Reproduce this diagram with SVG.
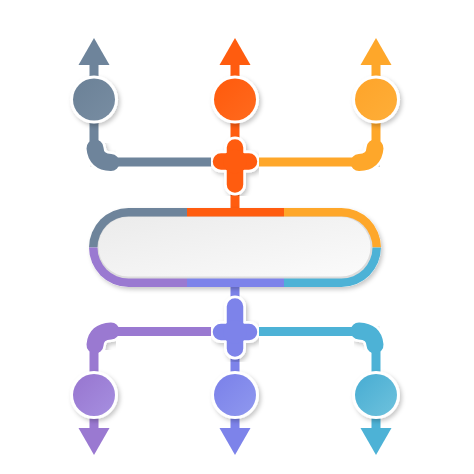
<svg xmlns="http://www.w3.org/2000/svg" width="474" height="474" viewBox="0 0 474 474">
  <defs>
    <filter id="sh" x="-30%" y="-30%" width="160%" height="160%">
      <feDropShadow dx="2" dy="2.5" stdDeviation="2" flood-color="#000" flood-opacity="0.22"/>
    </filter>
    <clipPath id="pillClip">
      <rect x="89" y="208" width="292" height="79" rx="39.5"/>
    </clipPath>
    <linearGradient id="gGray" x1="0" y1="0" x2="1" y2="1"><stop offset="0" stop-color="#6b8197"/><stop offset="1" stop-color="#788da2"/></linearGradient>
    <linearGradient id="gOrange" x1="0" y1="0" x2="1" y2="1"><stop offset="0" stop-color="#ff5a0c"/><stop offset="1" stop-color="#ff6a1e"/></linearGradient>
    <linearGradient id="gYellow" x1="0" y1="0" x2="1" y2="1"><stop offset="0" stop-color="#fea42a"/><stop offset="1" stop-color="#feae38"/></linearGradient>
    <linearGradient id="gPurple" x1="0" y1="0" x2="1" y2="1"><stop offset="0" stop-color="#9775cf"/><stop offset="1" stop-color="#a68fe0"/></linearGradient>
    <linearGradient id="gPeri" x1="0" y1="0" x2="1" y2="1"><stop offset="0" stop-color="#7a80e9"/><stop offset="1" stop-color="#8f98ef"/></linearGradient>
    <linearGradient id="gBlue" x1="0" y1="0" x2="1" y2="1"><stop offset="0" stop-color="#47acd2"/><stop offset="1" stop-color="#6ec2dd"/></linearGradient>
    <linearGradient id="gPill" x1="0" y1="0" x2="1" y2="1"><stop offset="0" stop-color="#ebebeb"/><stop offset="1" stop-color="#fbfbfb"/></linearGradient>
    <style>
      .ring { fill: #ffffff; filter: url(#sh); }
      .gray { fill: #6e849b; stroke: #6e849b; }
      .orange { fill: #ff5c0f; stroke: #ff5c0f; }
      .yellow { fill: #fea72a; stroke: #fea72a; }
      .purple { fill: #9a79d1; stroke: #9a79d1; }
      .peri { fill: #7d83ea; stroke: #7d83ea; }
      .blue { fill: #4db2d6; stroke: #4db2d6; }
      .bar { stroke-width: 9; fill: none; }
      .outline { fill: none; stroke: #ffffff; stroke-width: 22; stroke-linecap: round; stroke-linejoin: round; filter: url(#sh); }
      .blob { fill: none; stroke-width: 17; stroke-linecap: round; stroke-linejoin: round; }
      .arm { fill: none; stroke-width: 16.5; stroke-linecap: round; }
      .armout { fill: none; stroke: #ffffff; stroke-width: 22; stroke-linecap: round; }
      .arrowhead { stroke: none; }
    </style>
  </defs>

  <g id="connectors">
    <!-- top arrows -->
    <rect class="gray arrowhead" x="89.5" y="63" width="9" height="18"/>
    <polygon class="gray arrowhead" points="94,38 109.5,65 78.5,65"/>
    <rect class="orange arrowhead" x="230.5" y="63" width="9" height="18"/>
    <polygon class="orange arrowhead" points="235,38 250.5,65 219.5,65"/>
    <rect class="yellow arrowhead" x="371.5" y="63" width="9" height="18"/>
    <polygon class="yellow arrowhead" points="376,38 391.5,65 360.5,65"/>
    <!-- bottom arrows -->
    <rect class="purple arrowhead" x="89.5" y="412" width="9" height="18"/>
    <polygon class="purple arrowhead" points="94,455 109.5,428 78.5,428"/>
    <rect class="peri arrowhead" x="230.5" y="412" width="9" height="18"/>
    <polygon class="peri arrowhead" points="235,455 250.5,428 219.5,428"/>
    <rect class="blue arrowhead" x="371.5" y="412" width="9" height="18"/>
    <polygon class="blue arrowhead" points="376,455 391.5,428 360.5,428"/>
    <!-- top stems and bars -->
    <line class="gray bar" x1="94" y1="115" x2="94" y2="148"/>
    <line class="orange bar" x1="235" y1="115" x2="235" y2="150"/>
    <line class="yellow bar" x1="376" y1="115" x2="376" y2="148"/>
    <line class="gray bar" x1="108" y1="162" x2="220" y2="162"/>
    <line class="yellow bar" x1="250" y1="162" x2="362" y2="162"/>
    <line class="orange bar" x1="235" y1="185" x2="235" y2="214"/>
    <!-- bottom stems and bars -->
    <line class="peri bar" x1="235" y1="281" x2="235" y2="310"/>
    <line class="purple bar" x1="108" y1="331.5" x2="220" y2="331.5"/>
    <line class="blue bar" x1="250" y1="331.5" x2="362" y2="331.5"/>
    <line class="purple bar" x1="94" y1="345" x2="94" y2="382"/>
    <line class="peri bar" x1="235" y1="345" x2="235" y2="382"/>
    <line class="blue bar" x1="376" y1="345" x2="376" y2="382"/>
  </g>

  <g id="elbow-top-left">
    <path class="outline" d="M95,148 Q96,162 111,162.5"/>
    <path class="gray blob" d="M95,148 Q96,162 111,162.5"/>
  </g>
  <g id="elbow-top-right">
    <path class="outline" d="M375,148 Q374,162 359,162.5"/>
    <path class="yellow blob" d="M375,148 Q374,162 359,162.5"/>
  </g>
  <g id="elbow-bottom-left">
    <path class="outline" d="M95,345 Q96,331.5 111,331"/>
    <path class="purple blob" d="M95,345 Q96,331.5 111,331"/>
  </g>
  <g id="elbow-bottom-right">
    <path class="outline" d="M375,345 Q374,331.5 359,331"/>
    <path class="blue blob" d="M375,345 Q374,331.5 359,331"/>
  </g>

  <g id="cross-top">
    <g filter="url(#sh)">
      <path class="armout" d="M235,147.5 L235,184.5 M221,161.5 L249,161.5"/>
      <circle cx="235" cy="161.5" r="14.5" fill="#fff"/>
    </g>
    <path class="orange arm" d="M235,147.5 L235,184.5 M221,161.5 L249,161.5"/>
    <circle class="orange" stroke="none" cx="235" cy="161.5" r="11.8"/>
  </g>
  <g id="cross-bottom">
    <g filter="url(#sh)">
      <path class="armout" d="M235,306.5 L235,348.5 M221,332 L249,332"/>
      <circle cx="235" cy="332" r="14.5" fill="#fff"/>
    </g>
    <path class="peri arm" d="M235,306.5 L235,348.5 M221,332 L249,332"/>
    <circle class="peri" stroke="none" cx="235" cy="332" r="11.8"/>
  </g>

  <g id="pill">
    <rect x="89" y="208" width="292" height="79" rx="39.5" fill="#fff" filter="url(#sh)"/>
    <g clip-path="url(#pillClip)">
      <rect x="85" y="204" width="102" height="43.5" fill="#6e849b"/>
      <rect x="187" y="204" width="97" height="43.5" fill="#ff5c0f"/>
      <rect x="284" y="204" width="102" height="43.5" fill="#fea72a"/>
      <rect x="85" y="247.5" width="102" height="44" fill="#9a79d1"/>
      <rect x="187" y="247.5" width="97" height="44" fill="#7d83ea"/>
      <rect x="284" y="247.5" width="102" height="44" fill="#4db2d6"/>
    </g>
    <rect x="97.5" y="216.5" width="275" height="62" rx="31" fill="#dcdcdc"/>
    <rect x="98.5" y="217" width="272" height="59.5" rx="29.75" fill="url(#gPill)"/>
  </g>

  <g id="circle-top-1">
    <circle class="ring" cx="94" cy="99.5" r="24"/>
    <circle cx="94" cy="99.5" r="21" fill="url(#gGray)"/>
  </g>
  <g id="circle-top-2">
    <circle class="ring" cx="235" cy="99.5" r="24"/>
    <circle cx="235" cy="99.5" r="21" fill="url(#gOrange)"/>
  </g>
  <g id="circle-top-3">
    <circle class="ring" cx="376" cy="99.5" r="24"/>
    <circle cx="376" cy="99.5" r="21" fill="url(#gYellow)"/>
  </g>
  <g id="circle-bottom-1">
    <circle class="ring" cx="94" cy="395" r="24"/>
    <circle cx="94" cy="395" r="21" fill="url(#gPurple)"/>
  </g>
  <g id="circle-bottom-2">
    <circle class="ring" cx="235" cy="395" r="24"/>
    <circle cx="235" cy="395" r="21" fill="url(#gPeri)"/>
  </g>
  <g id="circle-bottom-3">
    <circle class="ring" cx="376" cy="395" r="24"/>
    <circle cx="376" cy="395" r="21" fill="url(#gBlue)"/>
  </g>
</svg>
